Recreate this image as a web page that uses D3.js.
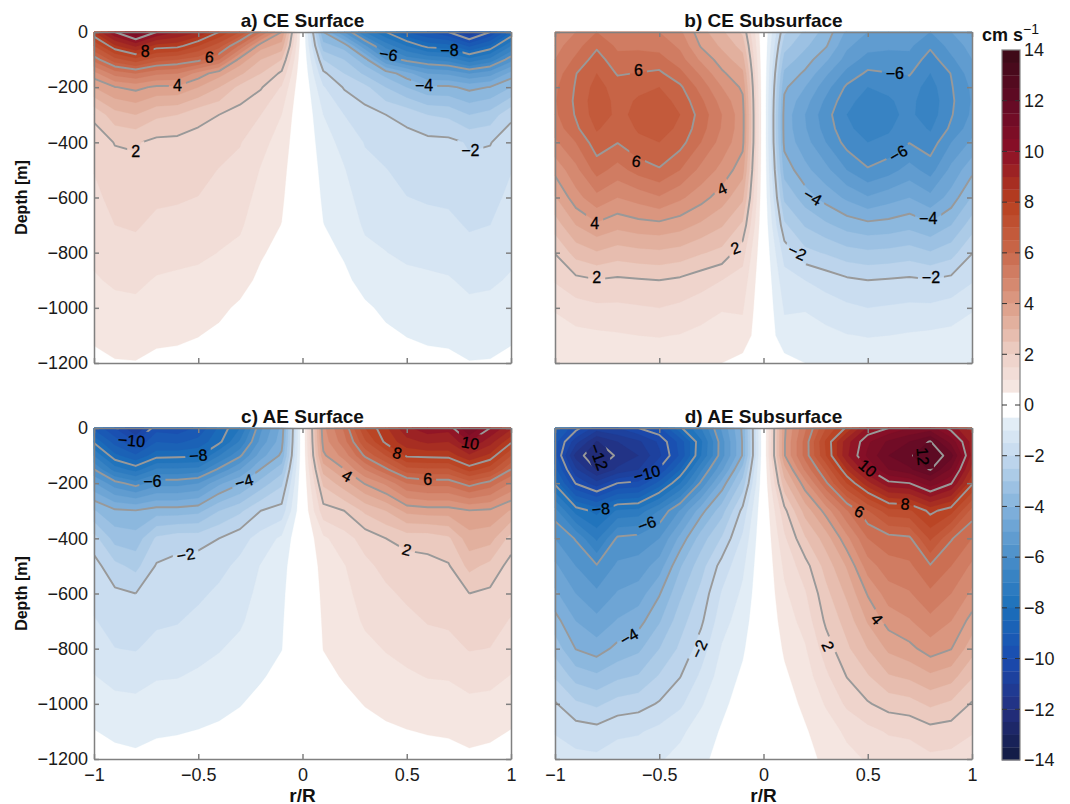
<!DOCTYPE html>
<html lang="en">
<head>
<meta charset="utf-8">
<title>eddy velocity sections</title>
<script src="https://d3js.org/d3.v7.min.js"></script>
<style>
body{margin:0;background:#fff;font-family:"Liberation Sans",Arial,sans-serif;}
.axis path,.axis line{stroke:#808080;stroke-width:1.5;}
.axis text{font-size:18px;fill:#1a1a1a;font-family:"Liberation Sans",Arial,sans-serif;}
.title,.xlab,.ylab,.unit{font-weight:bold;fill:#111;}
</style>
</head>
<body>
<div id="chart"></div>
<script>
// grid of the sections
var rValues = [-1,-0.9,-0.8,-0.7,-0.6,-0.5,-0.4,-0.3,-0.2,-0.1,0,0.1,0.2,0.3,0.4,0.5,0.6,0.7,0.8,0.9,1]
var depths = [0,-50,-100,-150,-200,-300,-400,-500,-600,-700,-800,-900,-1000,-1100,-1200]
var ceSubsurfaceDepths = [0,-50,-100,-150,-200,-250,-300,-350,-400,-500,-600,-700,-800,-900,-1000,-1100,-1200]

// values in cm/s, one row per depth
var ceSurface = [
[8.5,10,11,10,9.5,9,8,7,5.5,4,0,-4,-5.5,-7,-8,-9,-9.5,-10,-11,-10,-8.5],
[7,8.4,9.1,8.3,8.2,7.5,6.7,5.4,3.7,3.3,0,-3.3,-3.7,-5.4,-6.7,-7.5,-8.2,-8.3,-9.1,-8.4,-7],
[5.7,6.8,7.3,6.7,6.5,6.2,5.5,3.8,3,2.5,0,-2.5,-3,-3.8,-5.5,-6.2,-6.5,-6.7,-7.3,-6.8,-5.7],
[4.3,5.2,5.5,5.1,5,4.3,3.7,3.1,2.5,1.9,0,-1.9,-2.5,-3.1,-3.7,-4.3,-5,-5.1,-5.5,-5.2,-4.3],
[3.5,3.98,4.15,3.9,3.9,3.5,3,2.35,2.05,1.45,0,-1.45,-2.05,-2.35,-3,-3.5,-3.9,-3.9,-4.15,-3.98,-3.5],
[2.1,2.8,3,2.6,2.5,2.15,2,1.8,1.5,1,0,-1,-1.5,-1.8,-2,-2.15,-2.5,-2.6,-3,-2.8,-2.1],
[1.75,2.02,2.05,1.87,1.85,1.82,1.72,1.53,1.15,0.8,0,-0.8,-1.15,-1.53,-1.72,-1.82,-1.85,-1.87,-2.05,-2.02,-1.75],
[1.52,1.85,1.9,1.75,1.7,1.67,1.48,1.36,0.97,0.66,0,-0.66,-0.97,-1.36,-1.48,-1.67,-1.7,-1.75,-1.9,-1.85,-1.52],
[1.37,1.67,1.75,1.58,1.55,1.49,1.3,1.2,0.84,0.57,0,-0.57,-0.84,-1.2,-1.3,-1.49,-1.55,-1.58,-1.75,-1.67,-1.37],
[1.25,1.5,1.55,1.39,1.35,1.28,1.13,1.07,0.7,0.49,0,-0.49,-0.7,-1.07,-1.13,-1.28,-1.35,-1.39,-1.55,-1.5,-1.25],
[1.1,1.3,1.35,1.18,1.13,1.09,0.99,0.88,0.55,0.35,0,-0.35,-0.55,-0.88,-0.99,-1.09,-1.13,-1.18,-1.35,-1.3,-1.1],
[0.95,1.07,1.1,0.96,0.92,0.88,0.78,0.66,0.4,0.25,0,-0.25,-0.4,-0.66,-0.78,-0.88,-0.92,-0.96,-1.1,-1.07,-0.95],
[0.75,0.87,0.9,0.75,0.73,0.68,0.59,0.43,0.28,0.15,0,-0.15,-0.28,-0.43,-0.59,-0.68,-0.73,-0.75,-0.9,-0.87,-0.75],
[0.56,0.67,0.7,0.58,0.57,0.51,0.42,0.28,0.15,0.1,0,-0.1,-0.15,-0.28,-0.42,-0.51,-0.57,-0.58,-0.7,-0.67,-0.56],
[0.4,0.47,0.48,0.41,0.38,0.35,0.28,0.15,0.08,0.05,0,-0.05,-0.08,-0.15,-0.28,-0.35,-0.38,-0.41,-0.48,-0.47,-0.4]
]
var ceSubsurface = [
[4.5,5,5.5,5.1,5.1,5,4.6,3.7,3.1,2.4,0,-2.4,-3.1,-3.7,-4.6,-5,-5.1,-5.1,-5.5,-5,-4.5],
[4.8,5.3,5.9,5.4,5.4,5.3,4.9,3.95,3.4,2.8,0,-2.8,-3.4,-3.95,-4.9,-5.3,-5.4,-5.4,-5.9,-5.3,-4.8],
[5,5.6,6.25,5.65,5.7,5.7,5.2,4.4,3.75,3.2,0,-3.2,-3.75,-4.4,-5.2,-5.7,-5.7,-5.65,-6.25,-5.6,-5],
[5.2,5.98,6.5,5.95,6.02,6.1,5.65,4.9,4.1,3.6,0,-3.6,-4.1,-4.9,-5.65,-6.1,-6.02,-5.95,-6.5,-5.98,-5.2],
[5.4,6.05,6.7,6.25,6.4,6.5,6.1,5.3,4.5,3.9,0,-3.9,-4.5,-5.3,-6.1,-6.5,-6.4,-6.25,-6.7,-6.05,-5.4],
[5.45,6.1,6.8,6.35,6.55,6.7,6.35,5.6,4.8,4.1,0,-4.1,-4.8,-5.6,-6.35,-6.7,-6.55,-6.35,-6.8,-6.1,-5.45],
[5.4,6.05,6.75,6.4,6.6,6.78,6.5,5.8,5,4.2,0,-4.2,-5,-5.8,-6.5,-6.78,-6.6,-6.4,-6.75,-6.05,-5.4],
[5.2,5.9,6.55,6.25,6.55,6.7,6.4,5.7,4.95,4.2,0,-4.2,-4.95,-5.7,-6.4,-6.7,-6.55,-6.25,-6.55,-5.9,-5.2],
[4.9,5.5,6.3,6.02,6.4,6.5,6.2,5.5,4.8,4.15,0,-4.15,-4.8,-5.5,-6.2,-6.5,-6.4,-6.02,-6.3,-5.5,-4.9],
[4.15,4.85,5.7,5.3,5.7,5.95,5.5,4.85,4.35,3.7,0,-3.7,-4.35,-4.85,-5.5,-5.95,-5.7,-5.3,-5.7,-4.85,-4.15],
[3.45,4.3,4.85,4.5,4.7,4.95,4.6,4.2,3.75,3.1,0,-3.1,-3.75,-4.2,-4.6,-4.95,-4.7,-4.5,-4.85,-4.3,-3.45],
[2.74,3.5,3.9,3.65,3.8,3.85,3.7,3.4,3.05,2.4,0,-2.4,-3.05,-3.4,-3.7,-3.85,-3.8,-3.65,-3.9,-3.5,-2.74],
[2.02,2.7,2.95,2.75,2.85,2.9,2.8,2.55,2.35,1.7,0,-1.7,-2.35,-2.55,-2.8,-2.9,-2.85,-2.75,-2.95,-2.7,-2.02],
[1.55,1.85,1.97,1.9,1.95,2,1.9,1.7,1.5,1.3,0,-1.3,-1.5,-1.7,-1.9,-2,-1.95,-1.9,-1.97,-1.85,-1.55],
[1.05,1.3,1.4,1.4,1.45,1.5,1.4,1.25,1.05,1.05,0,-1.05,-1.05,-1.25,-1.4,-1.5,-1.45,-1.4,-1.4,-1.3,-1.05],
[0.75,0.85,0.9,0.95,1,1.02,0.98,0.85,0.7,0.85,0,-0.85,-0.7,-0.85,-0.98,-1.02,-1,-0.95,-0.9,-0.85,-0.75],
[0.6,0.65,0.7,0.7,0.75,0.75,0.65,0.55,0.5,0.3,0,-0.3,-0.5,-0.55,-0.65,-0.75,-0.75,-0.7,-0.7,-0.65,-0.6]
]
var aeSurface = [
[-9.1,-10,-11,-9.7,-9.8,-9.4,-8.4,-7.5,-5.6,-4.35,0,4.35,5.6,7.5,8.4,9.4,9.8,9.7,11,10,9.1],
[-8.1,-9.2,-10,-9,-9.1,-8.8,-8.15,-6.9,-5.3,-4.2,0,4.2,5.3,6.9,8.15,8.8,9.1,9,10,9.2,8.1],
[-7,-8.35,-8.9,-8.2,-8.15,-8.1,-7,-6.1,-4.7,-3.9,0,3.9,4.7,6.1,7,8.1,8.15,8.2,8.9,8.35,7],
[-6,-7.2,-7.7,-6.9,-6.9,-6.8,-5.9,-5,-3.98,-3.2,0,3.2,3.98,5,5.9,6.8,6.9,6.9,7.7,7.2,6],
[-4.95,-5.8,-6.25,-5.7,-5.7,-5.5,-4.6,-4.05,-3.3,-2.6,0,2.6,3.3,4.05,4.6,5.5,5.7,5.7,6.25,5.8,4.95],
[-3.45,-3.9,-3.97,-3.75,-3.75,-3.65,-3,-2.6,-2,-1.8,0,1.8,2,2.6,3,3.65,3.75,3.75,3.97,3.9,3.45],
[-2.3,-3.2,-3.3,-2.4,-2.2,-2.2,-2,-1.7,-1.3,-0.9,0,0.9,1.3,1.7,2,2.2,2.2,2.4,3.3,3.2,2.3],
[-1.8,-2.35,-2.65,-1.95,-1.85,-1.75,-1.65,-1.37,-0.97,-0.68,0,0.68,0.97,1.37,1.65,1.75,1.85,1.95,2.65,2.35,1.8],
[-1.68,-1.9,-2,-1.72,-1.72,-1.6,-1.4,-1.22,-0.85,-0.6,0,0.6,0.85,1.22,1.4,1.6,1.72,1.72,2,1.9,1.68],
[-1.46,-1.7,-1.77,-1.58,-1.53,-1.36,-1.17,-1.07,-0.75,-0.55,0,0.55,0.75,1.07,1.17,1.36,1.53,1.58,1.77,1.7,1.46],
[-1.22,-1.49,-1.53,-1.33,-1.28,-1.15,-1.03,-0.87,-0.65,-0.51,0,0.51,0.65,0.87,1.03,1.15,1.28,1.33,1.53,1.49,1.22],
[-0.98,-1.15,-1.2,-1.04,-1.02,-0.93,-0.83,-0.72,-0.54,-0.38,0,0.38,0.54,0.72,0.83,0.93,1.02,1.04,1.2,1.15,0.98],
[-0.73,-0.86,-0.88,-0.78,-0.77,-0.73,-0.63,-0.52,-0.38,-0.22,0,0.22,0.38,0.52,0.63,0.73,0.77,0.78,0.88,0.86,0.73],
[-0.48,-0.6,-0.65,-0.55,-0.53,-0.48,-0.42,-0.35,-0.24,-0.13,0,0.13,0.24,0.35,0.42,0.48,0.53,0.55,0.65,0.6,0.48],
[-0.3,-0.35,-0.4,-0.35,-0.3,-0.28,-0.22,-0.18,-0.12,-0.07,0,0.07,0.12,0.18,0.22,0.28,0.3,0.35,0.4,0.35,0.3]
]
var aeSubsurface = [
[-8.8,-9.8,-10.7,-10.5,-10,-9.6,-8.1,-7,-5.4,-3.9,0,3.9,5.4,7,8.1,9.6,10,10.5,10.7,9.8,8.8],
[-9.3,-10.8,-12.05,-11.5,-11.1,-10.4,-9.3,-7.6,-5.7,-3.95,0,3.95,5.7,7.6,9.3,10.4,11.1,11.5,12.05,10.8,9.3],
[-9.3,-11.7,-12.5,-11.9,-11.5,-10.6,-9.4,-7.5,-5.7,-3.95,0,3.95,5.7,7.5,9.4,10.6,11.5,11.9,12.5,11.7,9.3],
[-8.8,-10.9,-12.05,-11.4,-11,-9.95,-8.5,-6.6,-5.1,-3.3,0,3.3,5.1,6.6,8.5,9.95,11,11.4,12.05,10.9,8.8],
[-8.1,-10.05,-10.8,-10,-9.85,-8.8,-7.5,-5.9,-4.3,-2.8,0,2.8,4.3,5.9,7.5,8.8,9.85,10,10.8,10.05,8.1],
[-6.3,-7.7,-8.15,-7.4,-7.3,-6.45,-5.45,-4.2,-3.2,-1.85,0,1.85,3.2,4.2,5.45,6.45,7.3,7.4,8.15,7.7,6.3],
[-5.5,-6.05,-7.1,-5.9,-5.8,-5.5,-4.35,-3.25,-2.45,-1.4,0,1.4,2.45,3.25,4.35,5.5,5.8,5.9,7.1,6.05,5.5],
[-4.9,-5.5,-5.95,-5.4,-5.3,-4.75,-3.55,-2.7,-1.8,-1.1,0,1.1,1.8,2.7,3.55,4.75,5.3,5.4,5.95,5.5,4.9],
[-4.4,-5,-5.4,-4.95,-4.75,-4.05,-3.1,-2.35,-1.45,-0.9,0,0.9,1.45,2.35,3.1,4.05,4.75,4.95,5.4,5,4.4],
[-3.8,-4.5,-4.85,-4.45,-4.2,-3.55,-2.7,-2.1,-1.2,-0.72,0,0.72,1.2,2.1,2.7,3.55,4.2,4.45,4.85,4.5,3.8],
[-3.2,-4.02,-4.25,-3.85,-3.6,-3,-2.4,-1.75,-0.95,-0.56,0,0.56,0.95,1.75,2.4,3,3.6,3.85,4.25,4.02,3.2],
[-2.55,-3.2,-3.4,-3.1,-2.95,-2.45,-2.02,-1.4,-0.75,-0.42,0,0.42,0.75,1.4,2.02,2.45,2.95,3.1,3.4,3.2,2.55],
[-1.95,-2.4,-2.6,-2.3,-2.2,-1.95,-1.6,-1.05,-0.6,-0.3,0,0.3,0.6,1.05,1.6,1.95,2.2,2.3,2.6,2.4,1.95],
[-1.55,-1.75,-1.8,-1.6,-1.55,-1.35,-1.1,-0.75,-0.45,-0.2,0,0.2,0.45,0.75,1.1,1.35,1.55,1.6,1.8,1.75,1.55],
[-1.15,-1.35,-1.4,-1.25,-1.2,-1.05,-0.85,-0.6,-0.35,-0.15,0,0.15,0.35,0.6,0.85,1.05,1.2,1.25,1.4,1.35,1.15]
]

// contour labels: value, r/R, depth, rotation
var ceSurfaceLabels = [[8,-0.755,-69,0],[6,-0.446,-90,5],[4,-0.6,-192,0],[2,-0.8,-432,0],[-6,0.413,-81,10],[-8,0.705,-65,0],[-4,0.583,-192,0],[-2,0.805,-428,0]]
var ceSubsurfaceLabels = [[6,-0.6,-139,0],[6,-0.61,-468,10],[4,-0.2,-568,-25],[4,-0.81,-693,0],[2,-0.135,-782,-20],[2,-0.8,-889,0],[-6,0.63,-148,0],[-6,0.646,-440,-30],[-4,0.236,-598,30],[-4,0.79,-674,0],[-2,0.162,-798,25],[-2,0.803,-888,0]]
var aeSurfaceLabels = [[-10,-0.82,-45,5],[-8,-0.5,-99,-5],[-6,-0.72,-193,0],[-4,-0.28,-193,-15],[-2,-0.56,-459,-10],[10,0.805,-54,10],[8,0.455,-90,15],[6,0.6,-187,0],[4,0.215,-173,30],[2,0.5,-441,15]]
var aeSubsurfaceLabels = [[-12,-0.79,-105,70],[-10,-0.56,-165,-15],[-8,-0.78,-293,-5],[-6,-0.56,-347,-20],[-4,-0.645,-757,-30],[-2,-0.31,-801,-65],[12,0.765,-103,85],[10,0.5,-145,40],[8,0.68,-275,5],[6,0.46,-302,25],[4,0.545,-692,50],[2,0.31,-791,65]]

var lineLevels = [2,4,6,8,10,12]
var rTicks = [-1,-0.5,0,0.5,1]
var depthTicks = [0,-200,-400,-600,-800,-1000,-1200]
var barTicks = [-14,-12,-10,-8,-6,-4,-2,0,2,4,6,8,10,12,14]

// colour ramp anchors
var rampValues = [-14,-12,-10,-8,-6,-4,-2,-0.5,0.5,2,4,6,8,10,12,14]
var rampColors = ["#121a40","#232f80","#1a4bb0","#1b70ba","#4a8ec9","#84b3dc","#c4d9ee","#e8f1f8","#f6eae6","#edd0c7","#dc9c86","#c9694c","#b8401f","#8b1027","#620a25","#3a0a16"]
var color = d3.scaleLinear().domain(rampValues).range(rampColors)

var bandEdges = d3.range(0.5,14,0.5)

var svg = d3.select("#chart").append("svg").attr("width",1070).attr("height",804)
var defs = svg.append("defs")
var fmt = d3.format("~f")

var panelW = 417, panelH = 331

function drawPanel(id,title,grid,rowDepths,labels,x0,y0,showX,showY){
    var g = svg.append("g").attr("transform","translate("+x0+","+y0+")")
    var xScale = d3.scaleLinear().domain([-1,1]).range([0,panelW])
    var yScale = d3.scaleLinear().domain([-1200,0]).range([panelH,0])
    // grid index to data value
    var colToR = d3.scaleLinear().domain(d3.range(rValues.length)).range(rValues)
    var rowToDepth = d3.scaleLinear().domain(d3.range(rowDepths.length)).range(rowDepths)
    var nx = rValues.length, ny = rowDepths.length
    function cx(v){ return Math.max(0,Math.min(nx-1,v-0.5)) }
    function cy(v){ return Math.max(0,Math.min(ny-1,v-0.5)) }
    var path = d3.geoPath(d3.geoTransform({point:function(a,b){
        this.stream.point(xScale(colToR(cx(a))),yScale(rowToDepth(cy(b))))
    }}))
    var flat = d3.merge(grid)
    var flatNeg = flat.map(function(d){return -d})
    var contours = d3.contours().size([nx,ny])

    // filled bands, positive and negative side
    bandEdges.forEach(function(t){
        g.append("path").attr("d",path(contours.contour(flat,t))).attr("fill",color(t+0.25)).attr("stroke",color(t+0.25)).attr("stroke-width",0.3)
        g.append("path").attr("d",path(contours.contour(flatNeg,t))).attr("fill",color(-t-0.25)).attr("stroke",color(-t-0.25)).attr("stroke-width",0.3)
    })

    // mask makes the gaps in the lines where the labels sit
    var mask = defs.append("mask").attr("id","gap"+id).attr("maskUnits","userSpaceOnUse")
        .attr("x",0).attr("y",0).attr("width",panelW).attr("height",panelH)
    mask.append("rect").attr("width",panelW).attr("height",panelH).attr("fill","#fff")
    labels.forEach(function(l){
        var w = String(l[0]).length*9+8
        mask.append("rect").attr("x",-w/2).attr("y",-10).attr("width",w).attr("height",20).attr("fill","#000")
            .attr("transform","translate("+xScale(l[1])+","+yScale(l[2])+") rotate("+l[3]+")")
    })

    // contour lines, dropping the bits that run along the frame
    function lineString(geom){
        var s = ""
        geom.coordinates.forEach(function(poly){ poly.forEach(function(ring){
            var pen = false
            for(var i=1;i<ring.length;i++){
                var a = [cx(ring[i-1][0]),cy(ring[i-1][1])], b = [cx(ring[i][0]),cy(ring[i][1])]
                var along = (a[0]==0&&b[0]==0)||(a[0]==nx-1&&b[0]==nx-1)||(a[1]==0&&b[1]==0)||(a[1]==ny-1&&b[1]==ny-1)
                if(along){ pen = false; continue }
                if(!pen) s += "M"+xScale(colToR(a[0]))+","+yScale(rowToDepth(a[1]))
                s += "L"+xScale(colToR(b[0]))+","+yScale(rowToDepth(b[1]))
                pen = true
            }
        })})
        return s
    }
    var lines = g.append("g").attr("mask","url(#gap"+id+")")
    lineLevels.forEach(function(t){
        [flat,flatNeg].forEach(function(f){
            lines.append("path").attr("d",lineString(contours.contour(f,t)))
                .attr("fill","none").attr("stroke","#999").attr("stroke-width",1.9).attr("stroke-linejoin","round")
        })
    })

    labels.forEach(function(l){
        g.append("text").text(fmt(l[0]))
            .attr("transform","translate("+xScale(l[1])+","+yScale(l[2])+") rotate("+l[3]+")")
            .attr("text-anchor","middle").attr("dy","0.36em")
            .style("font-size","16px").style("fill","#000").style("stroke","#000").style("stroke-width",0.3)
    })

    // box with inward ticks on all four sides
    var bottom = d3.axisBottom(xScale).tickValues(rTicks).tickSizeInner(-5).tickSizeOuter(0).tickPadding(9).tickFormat(showX?fmt:"")
    var top = d3.axisTop(xScale).tickValues(rTicks).tickSizeInner(-5).tickSizeOuter(0).tickFormat("")
    var left = d3.axisLeft(yScale).tickValues(depthTicks).tickSizeInner(-5).tickSizeOuter(0).tickPadding(6).tickFormat(showY?fmt:"")
    var right = d3.axisRight(yScale).tickValues(depthTicks).tickSizeInner(-5).tickSizeOuter(0).tickFormat("")
    g.append("g").attr("class","axis").attr("transform","translate(0,"+panelH+")").call(bottom)
    g.append("g").attr("class","axis").call(top)
    g.append("g").attr("class","axis").call(left)
    g.append("g").attr("class","axis").attr("transform","translate("+panelW+",0)").call(right)

    g.append("text").attr("class","title").text(title).attr("x",panelW/2).attr("y",-5).attr("text-anchor","middle").style("font-size","19px")
    if(showX) g.append("text").attr("class","xlab").text("r/R").attr("x",panelW/2).attr("y",panelH+43).attr("text-anchor","middle").style("font-size","19px")
    if(showY) g.append("text").attr("class","ylab").text("Depth [m]")
        .attr("transform","translate(-67,"+(panelH/2)+") rotate(-90)").attr("text-anchor","middle").style("font-size","16px")
}

drawPanel("a","a) CE Surface",ceSurface,depths,ceSurfaceLabels,94,32,false,true)
drawPanel("b","b) CE Subsurface",ceSubsurface,ceSubsurfaceDepths,ceSubsurfaceLabels,555,32,false,false)
drawPanel("c","c) AE Surface",aeSurface,depths,aeSurfaceLabels,94,428,true,true)
drawPanel("d","d) AE Subsurface",aeSubsurface,depths,aeSubsurfaceLabels,555,428,true,false)

// colour bar
var barX = 1002, barW = 18, barTop = 50, barBottom = 760
var barScale = d3.scaleLinear().domain([-14,14]).range([barBottom,barTop])
var barG = svg.append("g")
bandEdges.forEach(function(t){
    barG.append("rect").attr("x",barX).attr("width",barW).attr("y",barScale(t+0.5)).attr("height",barScale(t)-barScale(t+0.5)+0.3).attr("fill",color(t+0.25))
    barG.append("rect").attr("x",barX).attr("width",barW).attr("y",barScale(-t)).attr("height",barScale(-t-0.5)-barScale(-t)+0.3).attr("fill",color(-t-0.25))
})
var barAxis = d3.axisRight(barScale).tickValues(barTicks).tickSize(0).tickPadding(4).tickFormat(fmt)
var barAxisG = svg.append("g").attr("class","axis").attr("transform","translate("+(barX+barW)+",0)").call(barAxis)
barAxisG.select(".domain").remove()
svg.append("rect").attr("x",barX).attr("y",barTop).attr("width",barW).attr("height",barBottom-barTop).attr("fill","none").attr("stroke","#808080").attr("stroke-width",1.2)
barTicks.slice(1,-1).forEach(function(t){
    svg.append("line").attr("x1",barX).attr("x2",barX+5).attr("y1",barScale(t)).attr("y2",barScale(t)).attr("stroke","#333")
    svg.append("line").attr("x1",barX+barW-5).attr("x2",barX+barW).attr("y1",barScale(t)).attr("y2",barScale(t)).attr("stroke","#333")
})
var unit = svg.append("text").attr("class","unit").attr("x",982).attr("y",41).style("font-size","18px")
unit.append("tspan").text("cm s")
unit.append("tspan").text("−1").attr("dy",-7).style("font-size","14px").style("font-weight","normal")
</script>
</body>
</html>
